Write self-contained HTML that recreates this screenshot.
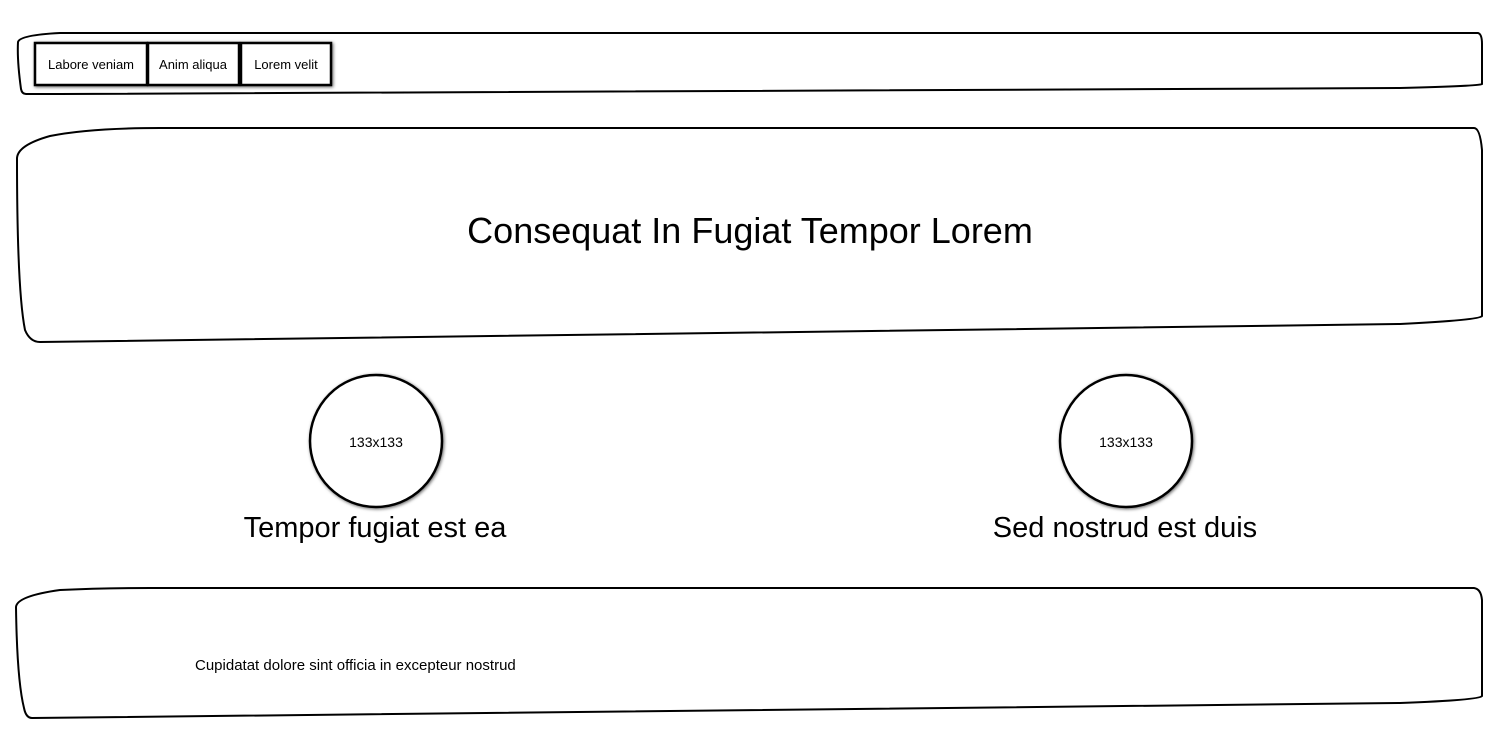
<!DOCTYPE html>
<html><head><meta charset="utf-8"><style>
html,body{margin:0;padding:0;background:#fff;width:1500px;height:752px;overflow:hidden}
svg{display:block}
text{font-family:"Liberation Sans",sans-serif;fill:#000}
</style></head><body>
<svg width="1500" height="752" viewBox="0 0 1500 752">
<defs>
<filter id="sh" x="-20%" y="-20%" width="140%" height="140%"><feDropShadow dx="1" dy="1" stdDeviation="1.5" flood-color="#000" flood-opacity="0.6"/></filter>
</defs>
<g fill="#fff" stroke="#000" stroke-width="2">
<path d="M21,89 Q17,60 18,42 Q20,35 60,33 L1478,33 Q1482,34 1482,44 L1482,84 Q1480,86 1400,88 L60,94 L26,94 Q22,94 21,89 Z"/>
<path d="M17,158 Q18,145 50,136 Q90,128 160,128 L1474,128 Q1480,128 1482,150 L1482,316 Q1480,320 1400,324 L40,342 Q30,342 25,330 Q17,290 17,158 Z"/>
<path d="M16,607 Q17,596 60,590 Q100,588 150,588 L1474,588 Q1481,589 1482,600 L1482,696 Q1480,700 1400,703 L32,718 Q26,718 24,708 Q17,680 16,607 Z"/>
</g>
<g fill="#fff" stroke="#000" stroke-width="2.5" filter="url(#sh)">
<rect x="35" y="43" width="112" height="42"/>
<rect x="148" y="43" width="91" height="42"/>
<rect x="241" y="43" width="90" height="42"/>
<circle cx="376" cy="441" r="66"/>
<circle cx="1126" cy="441" r="66"/>
</g>
<text x="91" y="69" font-size="13" text-anchor="middle">Labore veniam</text>
<text x="193" y="69" font-size="13" text-anchor="middle">Anim aliqua</text>
<text x="286" y="69" font-size="13" text-anchor="middle">Lorem velit</text>
<text x="750" y="243" font-size="36" text-anchor="middle">Consequat In Fugiat Tempor Lorem</text>
<text x="376" y="447" font-size="14" text-anchor="middle">133x133</text>
<text x="1126" y="447" font-size="14" text-anchor="middle">133x133</text>
<text x="375" y="537" font-size="29" text-anchor="middle">Tempor fugiat est ea</text>
<text x="1125" y="537" font-size="29" text-anchor="middle">Sed nostrud est duis</text>
<text x="195" y="670" font-size="15">Cupidatat dolore sint officia in excepteur nostrud</text>
</svg>
</body></html>
